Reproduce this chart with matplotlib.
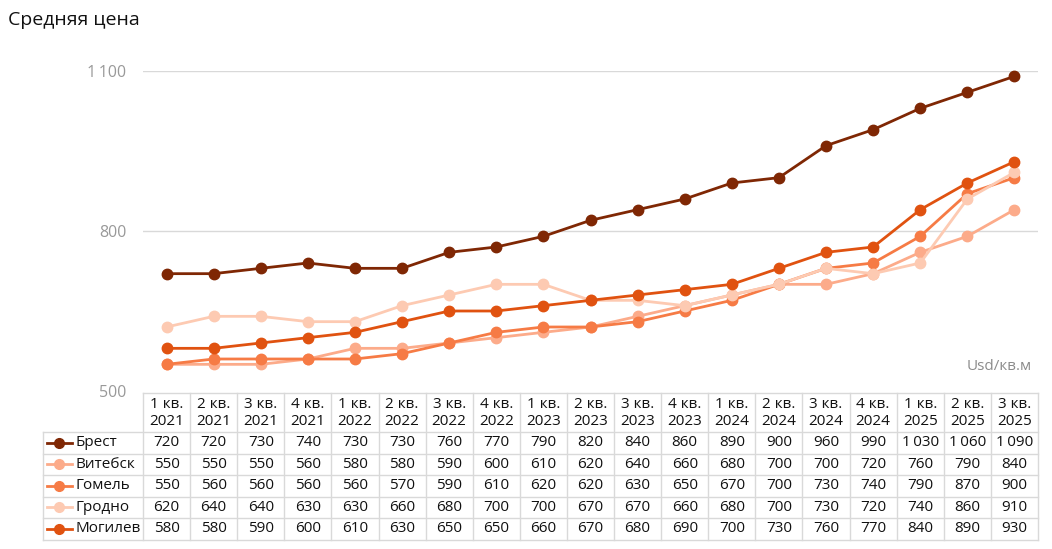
import matplotlib.pyplot as plt
from matplotlib.lines import Line2D

plt.rcParams['font.family'] = ['Open Sans', 'DejaVu Sans']

# данные
quarters = ['1 кв.\n2021', '2 кв.\n2021', '3 кв.\n2021', '4 кв.\n2021',
            '1 кв.\n2022', '2 кв.\n2022', '3 кв.\n2022', '4 кв.\n2022',
            '1 кв.\n2023', '2 кв.\n2023', '3 кв.\n2023', '4 кв.\n2023',
            '1 кв.\n2024', '2 кв.\n2024', '3 кв.\n2024', '4 кв.\n2024',
            '1 кв.\n2025', '2 кв.\n2025', '3 кв.\n2025']
cities = ['Брест', 'Витебск', 'Гомель', 'Гродно', 'Могилев']
brest = [720, 720, 730, 740, 730, 730, 760, 770, 790, 820, 840, 860, 890, 900, 960, 990, 1030, 1060, 1090]
vitebsk = [550, 550, 550, 560, 580, 580, 590, 600, 610, 620, 640, 660, 680, 700, 700, 720, 760, 790, 840]
gomel = [550, 560, 560, 560, 560, 570, 590, 610, 620, 620, 630, 650, 670, 700, 730, 740, 790, 870, 900]
grodno = [620, 640, 640, 630, 630, 660, 680, 700, 700, 670, 670, 660, 680, 700, 730, 720, 740, 860, 910]
mogilev = [580, 580, 590, 600, 610, 630, 650, 650, 660, 670, 680, 690, 700, 730, 760, 770, 840, 890, 930]
series = [brest, vitebsk, gomel, grodno, mogilev]
colors = ['#7f2704', '#fcab8a', '#f67b45', '#fdcab2', '#e05210']
yticks = [500, 800, 1100]

W, H = 1052, 549
fig = plt.figure(figsize=(W / 100, H / 100), dpi=100)
grid_color = '#d9d9d9'
n = len(quarters)
fs = 11

# основной график
x0, x1 = 143, 1038
ax = fig.add_axes([x0 / W, 1 - 391 / H, (x1 - x0) / W, (391 - 71) / H])
ax.set_xlim(-0.5, n - 0.5)
ax.set_ylim(500, 1100)
for v in yticks[1:]:
    ax.axhline(v, color=grid_color, lw=1, zorder=0)
for vals, c in zip(series, colors):
    ax.plot(range(n), vals, color=c, lw=2, marker='o', markersize=7.5, clip_on=False)
for s in ax.spines.values():
    s.set_visible(False)
ax.set_xticks([])
ax.set_yticks(yticks)
ax.set_yticklabels([f'{v:,}'.replace(',', '\u2009') for v in yticks])
ax.tick_params(axis='y', length=0, pad=12, labelcolor='#999999', labelsize=11.5)
ax.text(0.993, 0.075, 'Usd/кв.м', transform=ax.transAxes, ha='right', va='center',
        color='#8c8c8c', fontsize=11)

fig.text(8 / W, 1 - 20 / H, 'Средняя цена', ha='left', va='center', fontsize=14, color='#111111')

# таблица под графиком
col_w = (x1 - x0) / n
lab_w = (x0 - 43) / col_w
tx = fig.add_axes([43 / W, 1 - 540 / H, (x1 - 43) / W, (540 - 393) / H])
tx.set_xlim(-0.5 - lab_w, n - 0.5)
tx.set_ylim(147, 0)
tx.axis('off')
head_h, row_h = 39, 21.5
row_tops = [head_h + row_h * k for k in range(len(cities) + 1)]
left = -0.5 - lab_w

tx.plot([-0.5, n - 0.5], [0, 0], color=grid_color, lw=1, clip_on=False)
for y in row_tops:
    tx.plot([left, n - 0.5], [y, y], color=grid_color, lw=1, clip_on=False)
tx.plot([left, left], [head_h, row_tops[-1]], color=grid_color, lw=1, clip_on=False)
for i in range(n + 1):
    tx.plot([i - 0.5, i - 0.5], [0, row_tops[-1]], color=grid_color, lw=1, clip_on=False)

for i, q in enumerate(quarters):
    tx.text(i, head_h / 2 + 0.5, q, ha='center', va='center', fontsize=fs, color='#111111',
            linespacing=1.15)

for r, (name, vals, c) in enumerate(zip(cities, series, colors)):
    yc = row_tops[r] + row_h / 2
    tx.add_line(Line2D([left + 0.085, left + 0.62], [yc, yc], color=c, lw=2))
    tx.plot(left + 0.35, yc, 'o', color=c, markersize=7)
    tx.text(left + 0.70, yc, name, ha='left', va='center', fontsize=fs, color='#111111')
    for i, v in enumerate(vals):
        tx.text(i, yc, f'{v:,}'.replace(',', '\u2009'), ha='center', va='center',
                fontsize=fs, color='#111111')

fig.savefig('out.png', dpi=100)
